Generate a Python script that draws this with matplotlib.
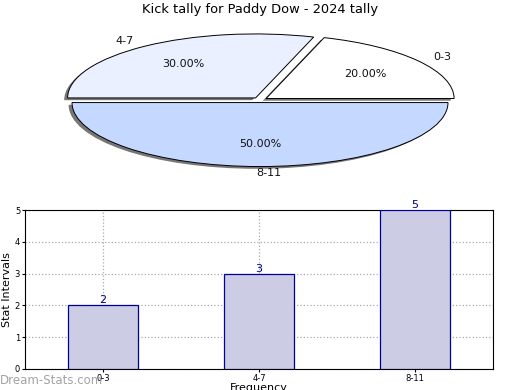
import matplotlib
matplotlib.use("Agg")
import matplotlib.pyplot as plt
import numpy as np

# ---- data ----
title = "Kick tally for Paddy Dow - 2024 tally"
categories = ["0-3", "4-7", "8-11"]
counts = [2, 3, 5]
pie_colors = ["#FFFFFF", "#EAF0FF", "#C5D8FF"]
y_label = "Stat Intervals"
x_label = "Frequency"
watermark = "Dream-Stats.com"

W, H = 520, 390
fig = plt.figure(figsize=(W / 100, H / 100), dpi=100)

# ---- pie (flattened ellipse) ----
cx, cy, rx, ry = 260, 100, 188, 64
span = 1.3
left = (cx - span * rx) / W
width = 2 * span * rx / W
bottom = (H - (cy + span * ry)) / H
height = 2 * span * ry / H
pax = fig.add_axes([left, bottom, width, height])
explode = [0.04] * len(counts)

# shadow
pax.pie(counts, explode=explode, startangle=0, counterclock=True,
        colors=["#777777"] * len(counts), center=(-0.018, -0.035),
        wedgeprops=dict(linewidth=0))
wedges, texts, autotexts = pax.pie(
    counts, explode=explode, labels=categories, startangle=0, counterclock=True,
    colors=pie_colors, autopct="%.2f%%", pctdistance=0.65, labeldistance=1.1,
    wedgeprops=dict(edgecolor="black", linewidth=0.7),
    textprops=dict(fontsize=8, color="#111111"))
for t in texts:
    x, y = t.get_position()
    if abs(x) < 1e-6:
        t.set_ha("left")
        t.set_position((-0.02, y + 0.0))
pax.set_aspect("auto")
pax.set_xlim(-span, span)
pax.set_ylim(-span, span)
pax.axis("off")

fig.text(0.5, 1 - 10 / H, title, ha="center", va="center", fontsize=9.4)

# ---- bar chart ----
bx0, bx1, by0, by1 = 25, 493, 210, 369
bax = fig.add_axes([bx0 / W, (H - by1) / H, (bx1 - bx0) / W, (by1 - by0) / H])
xpos = np.arange(len(categories))
bars = bax.bar(xpos, counts, width=0.45, color="#CCCCE5", edgecolor="#000099",
               linewidth=0.9, zorder=3)
for xp, v in zip(xpos, counts):
    bax.text(xp, v, str(v), ha="center", va="bottom", fontsize=8,
             color="#000080", zorder=4)
bax.set_xlim(-0.5, len(categories) - 0.5)
bax.set_ylim(0, 5)
bax.set_yticks(range(0, 6))
bax.set_xticks(xpos)
bax.set_xticklabels(categories)
bax.tick_params(axis="both", labelsize=6, length=2, pad=1.5)
bax.grid(True, linestyle=":", color="#AAAAAA", linewidth=0.9, zorder=0)
bax.set_axisbelow(True)
bax.set_ylabel(y_label, fontsize=8, labelpad=2)
bax.set_xlabel(x_label, fontsize=8, labelpad=0)
for s in bax.spines.values():
    s.set_linewidth(0.8)

fig.text(0 / W, 1 - 380 / H, watermark, ha="left", va="center", fontsize=8.5,
         color="#999999", alpha=0.9)

fig.savefig("out.png", dpi=100)
